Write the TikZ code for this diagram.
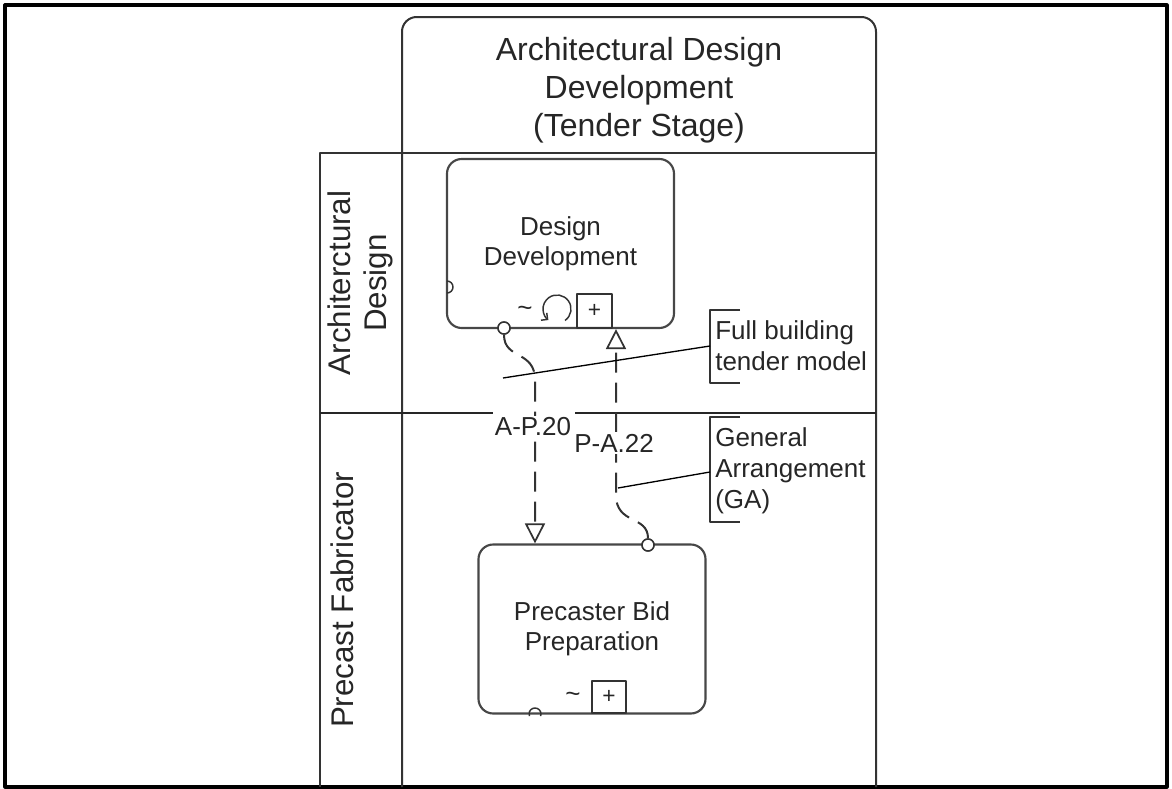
\documentclass[tikz,border=0pt]{standalone}
\usepackage{fontspec}
\setmainfont{Liberation Sans}
\usetikzlibrary{arrows.meta,calc}
\begin{document}
\begin{tikzpicture}[x=0.75pt,y=-0.75pt,line join=round,
  frame/.style={draw=black,line width=2.4pt},
  pool/.style={draw=black!80,line width=1.5pt},
  sep/.style={draw=black!85,line width=2.2pt},
  task/.style={draw=black!72,line width=1.6pt,rounded corners=11pt,minimum width=170.25pt,minimum height=126.75pt,align=center,font=\fontsize{19.5}{22.5}\selectfont,text=black!85,inner sep=0pt},
  marker/.style={draw=black!80,line width=1.1pt,inner sep=0pt,font=\fontsize{17}{17}\selectfont,text=black!85},
  tildemark/.style={inner sep=0pt,font=\fontsize{19.5}{20}\selectfont,text=black!85},
  port/.style={circle,draw=black!80,fill=white,line width=1.1pt,minimum size=9pt,inner sep=0pt},
  msg/.style={draw=black!80,line width=1.5pt,dash pattern=on 15pt off 7.5pt},
  msgarrow/.style={-{Triangle[open,length=15pt,width=15pt,line width=1.3pt]}},
  assoc/.style={draw=black,line width=1pt},
  bracket/.style={draw=black!80,line width=1.3pt},
  smallarc/.style={draw=black!80,line width=1.1pt},
  note/.style={anchor=west,align=left,font=\fontsize{19.5}{23.25}\selectfont,text=black!85,inner sep=0pt},
  flowlabel/.style={fill=white,inner sep=1.5pt,font=\fontsize{19.5}{22}\selectfont,text=black!85},
  header/.style={align=center,font=\fontsize{24}{28.5}\selectfont,text=black!85},
  lanelabel/.style={rotate=90,align=center,font=\fontsize{23.5}{27}\selectfont,text=black!85},
]
\useasboundingbox (0,0) rectangle (1172,789);
% outer frame
\draw[frame] (5,5) rectangle (1167,787);
% pool and lanes
\draw[pool,rounded corners=11pt] (402,787) -- (402,17) -- (876,17) -- (876,787);
\draw[pool] (320,787) -- (320,153) -- (876,153);
\draw[sep] (320,413) -- (493,413);
\draw[sep] (575,413) -- (876,413);
\node[header] (hdr) at (639,90) {Architectural Design\\Development\\(Tender Stage)};
\node[lanelabel] (lane1) at (360,283) {Architerctural\\Design};
\node[lanelabel] (lane2) at (342,600) {Precast Fabricator};
% tasks
\node[task] (dd) at (560.5,243.5) {Design\\Development};
\node[task] (pb) at (592,629) {Precaster Bid\\Preparation};
% task markers
\node[marker,minimum width=26.25pt,minimum height=25.5pt] (ddplus) at (594.5,311) {+};
\node[marker,minimum width=25.5pt,minimum height=24pt] (pbplus) at (609,697) {+};
\node[tildemark] (ddtilde) at (525,311) {\textasciitilde};
\node[tildemark] (pbtilde) at (573,697) {\textasciitilde};
\coordinate (loopc) at (557,309);
\draw[smallarc,-{Straight Barb[length=3.5pt,width=7pt]}] (loopc) ++(-55:10.5pt) arc[start angle=-55,end angle=232,radius=10.5pt];
\draw[smallarc] (447,281) arc[start angle=90,end angle=-90,radius=4.5pt];
\draw[smallarc] (535,714) ++(-20:4.5pt) arc[start angle=-20,end angle=200,radius=4.5pt];
% ports
\node[port] (c1) at (504,328) {};
\node[port] (c2) at (648,545) {};
% message flows
\coordinate (apA) at (535,380);
\coordinate (paA) at (616,495);
\draw[msg,msgarrow] (c1.south) .. controls (504,360) and (535,350) .. (apA) -- (pb.north -| apA);
\draw[msg,msgarrow] (c2.north) .. controls (648,515) and (616,525) .. (paA) -- (dd.south -| paA);
\node[port] at (c1) {};
\node[port] at (c2) {};
\node[flowlabel] (lap) at (533,427) {A-P.20};
\node[flowlabel] (lpa) at (614,443) {P-A.22};
% annotations
\node[note] (fbt) at (715,346) {Full building\\tender model};
\node[note] (gat) at (715,471) {General\\Arrangement\\(GA)};
\draw[bracket] (740,310) -- (710,310) -- (710,383) -- (740,383);
\draw[bracket] (740,417) -- (710,417) -- (710,522) -- (740,522);
\coordinate (fbm) at (710,346);
\coordinate (fbs) at (503,378);
\coordinate (gam) at (710,472);
\coordinate (gas) at (618,488);
\draw[assoc] (fbs) -- (fbm);
\draw[assoc] (gas) -- (gam);
\end{tikzpicture}
\end{document}
